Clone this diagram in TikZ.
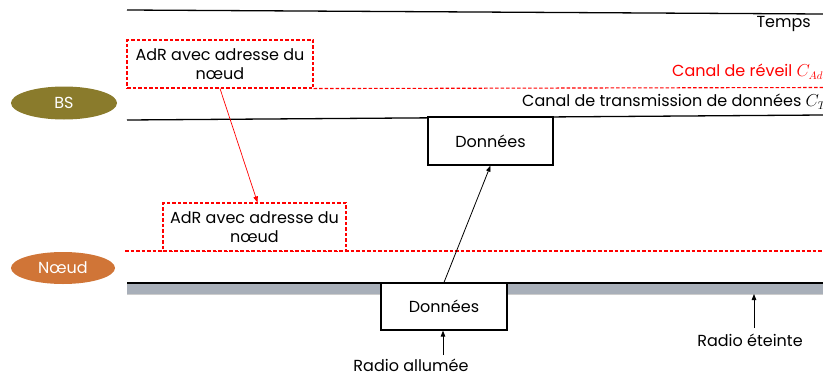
\documentclass[tikz,border=0pt]{standalone}
\usepackage{fontspec}
\setmainfont{Poppins}
\usetikzlibrary{shapes.geometric,arrows.meta}
\definecolor{bsolive}{HTML}{8A7B2C}
\definecolor{nodeorange}{HTML}{D07537}
\definecolor{radiogray}{HTML}{A8AFB9}
\definecolor{wred}{HTML}{FF0000}
\tikzset{
  lbl/.style={font=\fontsize{16}{19}\selectfont, inner sep=0pt},
  oval/.style={ellipse, minimum width=106pt, minimum height=33pt, text=white, inner sep=0pt, font=\fontsize{16}{19}\selectfont},
  adrbox/.style={draw=wred, dash pattern=on 3.5pt off 2pt, line width=1.1pt, fill=white, align=center, inner sep=0pt, font=\fontsize{16}{19}\selectfont},
  databox/.style={draw=black, line width=1.2pt, fill=white, inner sep=0pt, minimum width=125pt, minimum height=48pt, font=\fontsize{16}{19}\selectfont},
  chan/.style={line width=1.3pt},
  wake/.style={wred, dash pattern=on 3.5pt off 2pt, line width=1.1pt},
  tip/.style={-{Triangle[length=6pt,width=4.5pt]}, line width=0.8pt}
}
\begin{document}
\begin{tikzpicture}[x=1pt,y=-1pt]
\useasboundingbox (0,0) rectangle (823,378);
\clip (0,0) rectangle (823,378);
% time line
\coordinate (t0) at (127,10);
\coordinate (t1) at (823,14);
\draw[chan] (t0) -- (t1);
\node[lbl, anchor=east] (temps) at (811,24) {Temps};
% BS data channel
\coordinate (d0) at (127,120);
\coordinate (d1) at (823,115);
\draw[chan] (d0) -- (d1);
% gray bar for node radio
\fill[radiogray] (127,283) rectangle (823,294);
\draw[gray!40, line width=0.6pt] (127,294.3) -- (823,294.3);
\coordinate (n0) at (127,283);
\coordinate (n1) at (823,283);
\draw[chan] (n0) -- (n1);
% wake-up dashed lines
\coordinate (w1) at (823,87.5);
\coordinate (w20) at (125,251);
\coordinate (w21) at (823,251);
\draw[wake] (w20) -- (w21);
% ovals
\node[oval, fill=bsolive] (bs) at (64,103) {BS};
\node[oval, fill=nodeorange, minimum width=104pt, minimum height=32pt] (nd) at (63,268) {Nœud};
% AdR boxes
\node[adrbox, minimum width=186pt, minimum height=48pt] (adr1) at (220,64) {AdR avec adresse du\\nœud};
\draw[wake] (adr1.south east) -- (w1);
\node[adrbox, minimum width=183pt, minimum height=48pt] (adr2) at (254.5,227) {AdR avec adresse du\\nœud};
\draw[wred, tip, line width=0.7pt] (adr1.south) -- ([xshift=3pt]adr2.north);
% channel labels
\node[lbl, anchor=west, text=wred] (cadr) at (672,72) {Canal de réveil $C_{AdR}$};
\node[lbl, anchor=west] (ctd) at (522,102) {Canal de transmission de données $C_{TD}$};
% data boxes
\node[databox] (up) at (490.5,141) {Données};
\node[databox, minimum width=126pt, minimum height=47pt] (low) at (444,306.5) {Données};
\draw[tip] (low.north) -- (up.south);
% radio labels
\node[lbl] (ron) at (411,365.5) {Radio allumée};
\coordinate (ronarrow) at (443,355);
\draw[tip] (ronarrow) -- (low.south -| ronarrow);
\node[lbl] (roff) at (750,340) {Radio éteinte};
\coordinate (roffarrow) at (754,328);
\coordinate (roffend) at (754,294);
\draw[tip] (roffarrow) -- (roffend);
\end{tikzpicture}
\end{document}
